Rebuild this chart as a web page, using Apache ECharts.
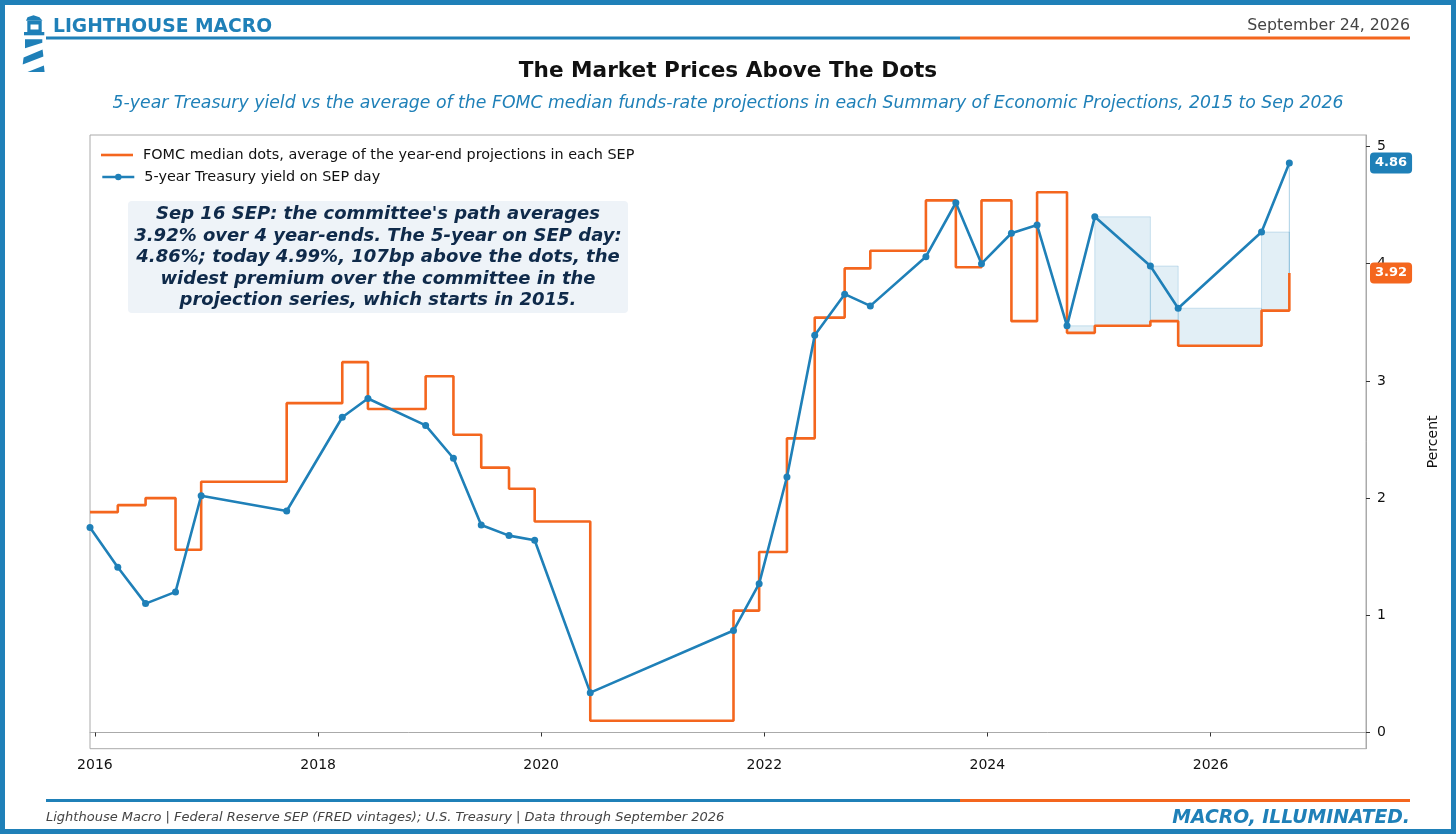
<!DOCTYPE html>
<html><head><meta charset="utf-8">
<script src="https://cdn.jsdelivr.net/npm/echarts@6/dist/echarts.min.js"></script>
<style>html,body{margin:0;padding:0;background:#fff}#c{width:1456px;height:834px}</style>
</head><body><div id="c"></div>
<script>
// ---- data ----
const sepDates = ['2015-12-16','2016-03-16','2016-06-15','2016-09-21','2016-12-14','2017-09-20',
  '2018-03-21','2018-06-13','2018-12-19','2019-03-20','2019-06-19','2019-09-18','2019-12-11',
  '2020-06-10','2021-09-22','2021-12-15','2022-03-16','2022-06-15','2022-09-21','2022-12-14',
  '2023-06-14','2023-09-20','2023-12-13','2024-03-20','2024-06-12','2024-09-18','2024-12-18',
  '2025-06-18','2025-09-17','2026-06-17','2026-09-16'];
const yield5y = [1.75,1.41,1.10,1.20,2.02,1.89,2.69,2.85,2.62,2.34,1.77,1.68,1.64,
  0.34,0.87,1.27,2.18,3.39,3.74,3.64,4.06,4.52,4.00,4.26,4.33,3.47,4.40,3.98,3.62,4.27,4.86];
const dotsAvg = [1.88,1.94,2.00,1.56,2.14,2.81,3.16,2.76,3.04,2.54,2.26,2.08,1.80,
  0.10,1.04,1.54,2.51,3.54,3.96,4.11,4.54,3.97,4.54,3.51,4.61,3.41,3.47,3.51,3.30,3.60,3.92];
const xTickDates = ['2016-01-01','2018-01-01','2020-01-01','2022-01-01','2024-01-01','2026-01-01'];
const yTicks = [0,1,2,3,4,5];
const shadeFrom = '2024-09-18';
const xMinDate = '2015-12-16', xMaxDate = '2027-05-25';
const yMin = -0.138, yMax = 5.098;

const BLUE = '#1F80B8', ORANGE = '#F4661E', FONT = '"DejaVu Sans"';
const toT = s => { const [y,m,d] = s.split('-').map(Number); return Date.UTC(y, m-1, d); };

const dotsData = sepDates.map((d,i) => [toT(d), dotsAvg[i]]);
const yieldData = sepDates.map((d,i) => [toT(d), yield5y[i]]);
const shadeData = [];
for (let i = sepDates.indexOf(shadeFrom); i < sepDates.length; i++) {
  const nxt = i + 1 < sepDates.length ? toT(sepDates[i+1]) : toT(sepDates[i]);
  if (yield5y[i] > dotsAvg[i]) shadeData.push([toT(sepDates[i]), nxt, dotsAvg[i], yield5y[i]]);
}
const n = sepDates.length;
const endLabels = [[toT(sepDates[n-1]), yield5y[n-1]], [toT(sepDates[n-1]), dotsAvg[n-1]]];
const xTicks = xTickDates.map(toT);

const NAME_DOTS = 'FOMC median dots, average of the year-end projections in each SEP';
const NAME_Y = '5-year Treasury yield on SEP day';

const annotation = "Sep 16 SEP: the committee's path averages\n3.92% over 4 year-ends. The 5-year on SEP day:\n4.86%; today 4.99%, 107bp above the dots, the\nwidest premium over the committee in the\nprojection series, which starts in 2015.";

function txt(x, y, text, font, fill, align, extra) {
  return Object.assign({type:'text', x, y, z:10, style:{text, font, fill, align, textAlign:align,
    verticalAlign:'middle', textVerticalAlign:'middle'}}, extra || {});
}
function rect(x, y, w, h, fill, z) {
  return {type:'rect', shape:{x, y, width:w, height:h}, style:{fill}, z: z || 10};
}
function poly(points) { return {type:'polygon', shape:{points}, style:{fill:BLUE}, z:10}; }

const graphics = [
  rect(0,0,1456,5,BLUE,50), rect(0,829,1456,5,BLUE,50), rect(0,0,5,834,BLUE,50), rect(1451,0,5,834,BLUE,50),
  rect(46,36.6,914,2.8,BLUE), rect(960,36.6,450,2.8,ORANGE),
  txt(53,27,'LIGHTHOUSE MACRO','bold 18.7px '+FONT,BLUE,'left'),
  txt(1410,25.5,'September 24, 2026','15.8px '+FONT,'#444','right'),
  txt(728,71,'The Market Prices Above The Dots','bold 21.6px '+FONT,'#111','center'),
  txt(728,104,'5-year Treasury yield vs the average of the FOMC median funds-rate projections in each Summary of Economic Projections, 2015 to Sep 2026','italic 17.3px '+FONT,BLUE,'center'),
  poly([[26,20.8],[27.5,17.2],[33.5,15.2],[39.5,17.2],[42.5,20.8]]),
  rect(27.3,20.8,14.4,11.5,BLUE),
  {type:'rect', shape:{x:30.5,y:24.5,width:8,height:5}, style:{fill:'#fff'}, z:11},
  rect(24,32,20.3,3.3,BLUE),
  poly([[25,39.3],[42.3,39.3],[42.3,42.7],[25,48.3]]),
  poly([[42.6,49.5],[43.4,56.5],[22.7,64.5],[23.6,57.5]]),
  poly([[27.5,72],[44.6,72],[43.9,65.5]]),
  {type:'rect', shape:{x:128,y:201,width:500,height:112,r:4}, style:{fill:'#eef3f8'}, z:5},
  {type:'text', x:378, y:257.5, z:6, style:{text:annotation, font:'italic bold 18px '+FONT, fill:'#0f2a4a',
    align:'center', textAlign:'center', verticalAlign:'middle', textVerticalAlign:'middle', lineHeight:21.5}},
  rect(46,799,914,3,BLUE), rect(960,799,450,3,ORANGE),
  txt(46,818,'Lighthouse Macro | Federal Reserve SEP (FRED vintages); U.S. Treasury | Data through September 2026','italic 13px '+FONT,'#444','left'),
  txt(1410,818,'MACRO, ILLUMINATED.','italic bold 18.8px '+FONT,BLUE,'right')
];

const legendBase = {left:101, orient:'vertical', itemWidth:32, itemHeight:8, padding:0,
  lineStyle:{width:2.6},
  textStyle:{fontSize:14.4, color:'#111', fontFamily:FONT, lineHeight:16, padding:[0,0,0,5]}};

const chart = echarts.init(document.getElementById('c'));
chart.setOption({
  animation: false,
  backgroundColor: '#fff',
  textStyle: {fontFamily: FONT},
  grid: {left:90, top:135, right:90, bottom:85.3, show:true, borderColor:'#aaaaaa', borderWidth:1, backgroundColor:'transparent'},
  legend: [
    Object.assign({}, legendBase, {top:147, data:[{name:NAME_DOTS, icon:'path://M0,0H32V2.6H0Z'}]}),
    Object.assign({}, legendBase, {top:169, data:[NAME_Y]})
  ],
  xAxis: {
    type:'value', min: toT(xMinDate), max: toT(xMaxDate), scale:true,
    axisLine:{show:true, lineStyle:{color:'#aaaaaa'}},
    axisTick:{show:true, customValues:xTicks, length:4, lineStyle:{color:'#333'}},
    axisLabel:{customValues:xTicks, formatter:v => String(new Date(v).getUTCFullYear()), fontSize:14, color:'#111', margin:10, fontFamily:FONT},
    splitLine:{show:false}
  },
  yAxis: {
    type:'value', position:'right', min:yMin, max:yMax,
    axisLine:{show:true, lineStyle:{color:'#aaaaaa'}},
    axisTick:{show:true, customValues:yTicks, length:4, lineStyle:{color:'#333'}},
    axisLabel:{customValues:yTicks, fontSize:14, color:'#111', margin:11, fontFamily:FONT},
    splitLine:{show:false},
    name:'Percent', nameLocation:'middle', nameRotate:90, nameGap:60,
    nameTextStyle:{fontSize:14, color:'#111', fontFamily:FONT}
  },
  series: [
    {type:'custom', name:'shade', data:shadeData, encode:{x:[0,1], y:[2,3]}, z:1, silent:true,
      renderItem:(params, api) => {
        const p0 = api.coord([api.value(0), api.value(2)]);
        const p1 = api.coord([api.value(1), api.value(3)]);
        return {type:'rect', shape:{x:p0[0], y:p1[1], width:p1[0]-p0[0], height:p0[1]-p1[1]},
          style:{fill:'rgba(31,128,184,0.13)', stroke:'rgba(31,128,184,0.2)', lineWidth:1}};
      }},
    {type:'line', name:NAME_DOTS, step:'end', data:dotsData, symbol:'none', z:3,
      lineStyle:{color:ORANGE, width:2.6}, itemStyle:{color:ORANGE}},
    {type:'line', name:NAME_Y, data:yieldData, symbol:'circle', symbolSize:7, z:4,
      lineStyle:{color:BLUE, width:2.6}, itemStyle:{color:BLUE}},
    {type:'custom', name:'endLabels', data:endLabels, encode:{x:0, y:1}, z:6, clip:false, silent:true,
      renderItem:(params, api) => {
        const cs = params.coordSys;
        const y = api.coord([api.value(0), api.value(1)])[1];
        const col = params.dataIndex === 0 ? BLUE : ORANGE;
        return {type:'text', x: cs.x + cs.width + 5, y,
          style:{text: api.value(1).toFixed(2), font:'bold 13px '+FONT, fill:'#fff',
            backgroundColor: col, borderColor: col, borderWidth:1, padding:[3,4,3,4], borderRadius:3,
            align:'left', verticalAlign:'middle'}};
      }}
  ],
  graphic: graphics
});
</script></body></html>
